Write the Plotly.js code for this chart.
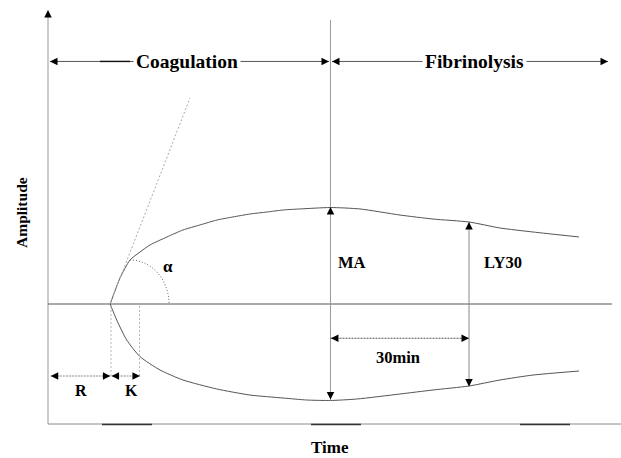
<!DOCTYPE html>
<html><head><meta charset="utf-8">
<script src="https://cdn.plot.ly/plotly-3.0.1.min.js"></script>
<style>html,body{margin:0;padding:0;background:#fff}#chart{width:621px;height:458px}</style>
</head><body><div id="chart"></div>
<script>
// Thromboelastography tracing: time in minutes, amplitude in mm
const upperTime = [13.45, 15.58, 17.75, 19.91, 22.07, 25.75, 29.21, 32.89, 36.57, 40.03, 43.71, 47.39, 50.85, 54.53, 61.13, 67.52, 76.17, 83.32, 91.11, 97.81, 104.96, 114.9];
const upperAmp  = [0, 16.25, 27.5, 32.5, 36.9, 41.9, 46.25, 49.4, 52.5, 54.4, 56.25, 57.5, 58.75, 59.4, 60.3, 59.4, 55.6, 53.1, 51.25, 47.5, 45, 41.9];
const lowerTime = [13.45, 14.87, 17.03, 19.91, 24.24, 29.21, 36.51, 43.71, 50.85, 55.98, 61.13, 66.8, 76.17, 83.32, 91.11, 97.81, 104.96, 114.9];
const lowerAmp  = [0, -10, -22.5, -32.9, -41.25, -47.5, -53.1, -56.9, -58.75, -60, -60.3, -59.4, -56.25, -53.75, -51.25, -47.5, -44.4, -41.9];

// Phases
const phaseNames = ['Coagulation', 'Fibrinolysis'];
const phaseStart = [0.43, 61.46];
const phaseEnd = [60.81, 121.18];
const phaseLabelTime = [30.08, 92.4];
const phaseLevel = 151.6;

// R and K intervals
const intervalNames = ['R', 'K'];
const intervalStart = [0.6, 13.75];
const intervalEnd = [13.5, 19.9];
const intervalLabelTime = [7.2, 18.0];
const intervalGuides = [13.63, 19.8];
const intervalLevel = -45;

// MA and LY30 markers
const markerNames = ['MA', 'LY30'];
const markerTime = [61.13, 91.11];
const markerTop = [60.6, 51.25];
const markerBottom = [-59.7, -51.6];
const markerLabelTime = [65.8, 98.4];
const markerLabelAmp = 25.9;

// 30 minute window
const windowLabel = '30min';
const windowLevel = -21.4;
const windowLabelPos = [75.7, -33.4];

// alpha angle (tangent and arc)
const tangentTime = [13.42, 30.73];
const tangentAmp = [0, 128.75];
const alphaCenter = [17.75, 0];
const alphaRadius = [8.44, 27.5];
const alphaLabelPos = [25.97, 23.75];

// axes
const timeMax = 124;
const baselineEnd = 122.05;
const ampAxisTop = 183.3;
const ampAxisBottom = -75;
const bottomAxisMarks = [[11.69, 22.51], [56.91, 67.73], [102.14, 112.96]];
const phaseLineMark = [11.25, 17.75];

const shapes = [];
const ann = [];
const FONT = 'Liberation Serif';

function seg(x0, y0, x1, y1, color, width, dash) {
  shapes.push({type: 'line', xref: 'x', yref: 'y', x0: x0, y0: y0, x1: x1, y1: y1,
    line: {color: color, width: width || 1, dash: dash || 'solid'}});
}
function head(x, y, dir) {
  const off = {up: [0, 8], down: [0, -8], left: [8, 0], right: [-8, 0]}[dir];
  ann.push({x: x, y: y, xref: 'x', yref: 'y', text: '', showarrow: true, arrowhead: 2,
    arrowsize: 1.5, arrowwidth: 1, arrowcolor: '#000', ax: off[0], ay: off[1], standoff: 0});
}
function label(x, y, text, size, extra) {
  ann.push(Object.assign({x: x, y: y, xref: 'x', yref: 'y', text: '<b>' + text + '</b>', showarrow: false,
    xanchor: 'center', yanchor: 'middle',
    font: {family: FONT, size: size, color: '#000'}}, extra || {}));
}

// Axes
seg(0, ampAxisBottom, 0, ampAxisTop, '#9a9a9a', 1);
head(0, ampAxisTop + 0.5, 'up');
seg(0, ampAxisBottom, timeMax, ampAxisBottom, '#8a8a8a', 1);
bottomAxisMarks.forEach(m => seg(m[0], ampAxisBottom - 0.3, m[1], ampAxisBottom - 0.3, '#333', 1.6));
seg(0, 0, baselineEnd, 0, '#555', 1);

// Phase arrows
phaseNames.forEach((n, i) => {
  seg(phaseStart[i], phaseLevel, phaseEnd[i], phaseLevel, '#555', 1);
  head(phaseStart[i], phaseLevel, 'left');
  head(phaseEnd[i], phaseLevel, 'right');
});
seg(phaseLineMark[0], phaseLevel, phaseLineMark[1], phaseLevel, '#111', 1.4);
phaseNames.forEach((n, i) => label(phaseLabelTime[i], phaseLevel, n, 19.5, {bgcolor: '#fff', borderpad: 2}));

// MA / LY30 verticals
seg(markerTime[0], 177.5, markerTime[0], -60.3, '#9a9a9a', 1);
seg(markerTime[1], markerTop[1], markerTime[1], markerBottom[1], '#8a8a8a', 1);
markerNames.forEach((n, i) => {
  head(markerTime[i], markerTop[i], 'up');
  head(markerTime[i], markerBottom[i], 'down');
  label(markerLabelTime[i], markerLabelAmp, n, 16.5);
});

// 30 min window
seg(markerTime[0], windowLevel, markerTime[1], windowLevel, '#555', 1, '2px,1px');
head(markerTime[0] + 0.1, windowLevel, 'left');
head(markerTime[1], windowLevel, 'right');
label(windowLabelPos[0], windowLabelPos[1], windowLabel, 16.5);

// R / K
intervalGuides.forEach(t => seg(t, -1.2, t, intervalLevel - 0.6, '#b5b5b5', 1, '2px,2px'));
intervalNames.forEach((n, i) => {
  seg(intervalStart[i], intervalLevel, intervalEnd[i], intervalLevel, '#888', 1, '2px,1px');
  head(intervalStart[i], intervalLevel, 'left');
  head(intervalEnd[i], intervalLevel, 'right');
  label(intervalLabelTime[i], -53.75, n, 16);
});

// tangent + alpha arc
seg(tangentTime[0], tangentAmp[0], tangentTime[1], tangentAmp[1], '#aaa', 1, '2px,2px');
const cx = alphaCenter[0], cy = alphaCenter[1], rx = alphaRadius[0], ry = alphaRadius[1], kk = 0.5523;
shapes.push({type: 'path', xref: 'x', yref: 'y',
  path: `M${cx},${cy + ry} C${cx + kk * rx},${cy + ry} ${cx + rx},${cy + kk * ry} ${cx + rx},${cy}`,
  line: {color: '#666', width: 1, dash: '1px,2px'}});
label(alphaLabelPos[0], alphaLabelPos[1], 'α', 17);

// axis titles
ann.push({xref: 'paper', yref: 'paper', x: 0.4991, y: -0.0444, xanchor: 'center', yanchor: 'middle',
  text: '<b>Time</b>', showarrow: false, font: {family: FONT, size: 17, color: '#000'}});
ann.push({xref: 'paper', yref: 'paper', x: -0.031, y: 0.5047, xanchor: 'center', yanchor: 'middle',
  text: '<b>Amplitude</b>', showarrow: false, textangle: -90, font: {family: FONT, size: 15.5, color: '#000'}});

const traces = [
  {x: upperTime, y: upperAmp, mode: 'lines', line: {color: '#555', width: 1, shape: 'spline', smoothing: 0.6}, hoverinfo: 'skip', showlegend: false},
  {x: lowerTime, y: lowerAmp, mode: 'lines', line: {color: '#555', width: 1, shape: 'spline', smoothing: 0.6}, hoverinfo: 'skip', showlegend: false}
];

const layout = {
  width: 621, height: 458,
  margin: {l: 40, r: 0, t: 0, b: 30},
  paper_bgcolor: '#fff', plot_bgcolor: '#fff',
  font: {family: FONT},
  xaxis: {range: [-1.7312, timeMax], showgrid: false, zeroline: false, showline: false, showticklabels: false, ticks: ''},
  yaxis: {range: [-77.5, 190], showgrid: false, zeroline: false, showline: false, showticklabels: false, ticks: ''},
  shapes: shapes,
  annotations: ann,
  showlegend: false
};
Plotly.newPlot('chart', traces, layout, {staticPlot: true, displayModeBar: false});
</script></body></html>
